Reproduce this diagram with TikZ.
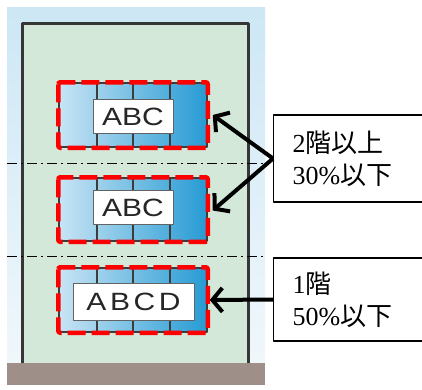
\documentclass[tikz,border=0pt]{standalone}
\usepackage{fontspec}
\setmainfont{Liberation Serif}
\newfontfamily\labfont{Liberation Sans}
\newfontfamily\cjk{Noto Sans CJK JP}
\usetikzlibrary{arrows.meta}
\definecolor{skyblue}{RGB}{205,231,245}
\definecolor{paleblue}{RGB}{240,247,251}
\definecolor{wallgreen}{RGB}{212,232,218}
\definecolor{groundbrown}{RGB}{158,143,136}
\definecolor{unitlight}{RGB}{200,228,244}
\definecolor{unitdark}{RGB}{38,155,212}
\definecolor{edgegray}{RGB}{60,60,60}
\tikzset{
  unit/.style={draw=edgegray,line width=1.5pt,left color=unitlight,right color=unitdark,minimum width=148,minimum height=64,inner sep=0pt},
  tag/.style={draw=edgegray!80,line width=1pt,fill=white,inner sep=0pt,minimum height=34,font=\labfont\fontsize{25}{25}\selectfont,text=black!85},
  reddash/.style={draw=red,line width=4.5pt,dash pattern=on 18pt off 6pt,rounded corners=2pt},
  floorline/.style={line width=0.8pt,dash pattern=on 10pt off 4pt on 2pt off 4pt},
  callout/.style={draw,line width=1.2pt,fill=white,anchor=west,align=left,text width=140,inner xsep=19,font=\fontsize{26}{32}\selectfont}
}
\begin{document}
\begin{tikzpicture}[line cap=butt,line join=round,>={Straight Barb[length=10pt,width=24pt,line width=4pt]},x=1pt,y=-1pt]
      \useasboundingbox (0,0) rectangle (422,389);
      \clip (0,0) rectangle (422,389);
      % sky and ground
      \shade[top color=skyblue,bottom color=paleblue] (7,7) rectangle (265,363);
      \fill[groundbrown] (7,363) rectangle (265,385);
      % building
      \fill[wallgreen] (22,23) rectangle (248,363);
      \draw[edgegray!90!black,line width=3pt] (22,363) -- (22,23) -- (248,23) -- (248,363);
      % floor levels
      \draw[floorline] (7,163) -- (265,163);
      \draw[floorline] (7,256) -- (265,256);
      % shop units
      \node[unit] (u1) at (133,115) {};
      \node[unit,minimum height=63] (u2) at (133,209.5) {};
      \node[unit] (u3) at (133,300) {};
      \foreach \u in {u1,u2,u3}
      \foreach \x in {97,133,170}
      \draw[edgegray,line width=1.2pt] (\x,0 |- \u.north) -- (\x,0 |- \u.south);
      \node[tag,minimum width=80] (l1) at (133,116.5) {\scalebox{1.2}[1]{ABC}};
      \node[tag,minimum width=80] (l2) at (133,207.5) {\scalebox{1.2}[1]{ABC}};
      \node[tag,minimum width=121,minimum height=37] (l3) at (133.5,301.5) {\scalebox{1.2}[1]{\addfontfeature{LetterSpace=12}ABCD}};
      \foreach \u in {u1,u2,u3}
      \draw[reddash] (\u.north west) rectangle (\u.south east);
      % notes
      \node[callout,minimum height=87] (n1) at (273,158.5) {2{\cjk 階以上}\\30\%{\cjk 以下}};
      \node[callout,minimum height=83] (n2) at (273,299.5) {1{\cjk 階}\\50\%{\cjk 以下}};
      \draw[->,line width=4pt] (n1.west) -- ([xshift=5pt]u1.east);
      \draw[->,line width=4pt] (n1.west) -- ([xshift=5pt,yshift=-1pt]u2.east);
      \draw[->,line width=4pt] (n2.west) -- ([xshift=2pt]u3.east);
\end{tikzpicture}
\end{document}
